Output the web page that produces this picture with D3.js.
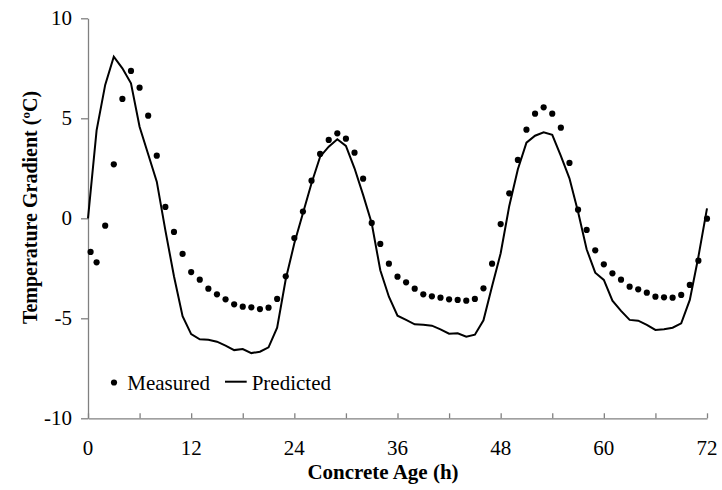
<!DOCTYPE html>
<html><head><meta charset="utf-8">
<script src="https://cdn.jsdelivr.net/npm/d3@7"></script>
<style>
html,body{margin:0;padding:0;background:#fff;}
</style></head>
<body><svg id="chart" width="722" height="490"></svg>
<script>
const measuredHours = [0.3,1,2,3,4,5,6,7,8,9,10,11,12,13,14,15,16,17,18,19,20,21,22,23,24,25,26,27,28,29,30,31,32,33,34,35,36,37,38,39,40,41,42,43,44,45,46,47,48,49,50,51,52,53,54,55,56,57,58,59,60,61,62,63,64,65,66,67,68,69,70,71,72];
const measuredValues = [-1.68,-2.2,-0.37,2.7,5.97,7.37,6.53,5.13,3.13,0.57,-0.68,-1.78,-2.69,-3.07,-3.52,-3.8,-4.05,-4.3,-4.42,-4.45,-4.54,-4.47,-4.03,-2.9,-0.99,0.34,1.88,3.22,3.92,4.25,3.98,3.28,1.98,-0.23,-1.28,-2.27,-2.92,-3.2,-3.52,-3.8,-3.9,-3.97,-4.05,-4.08,-4.12,-4.03,-3.5,-2.27,-0.29,1.25,2.92,4.43,5.23,5.55,5.23,4.53,2.77,0.43,-0.58,-1.6,-2.3,-2.75,-3.07,-3.42,-3.55,-3.72,-3.92,-3.95,-3.97,-3.83,-3.33,-2.12,-0.02];
const predictedHours = d3.range(0, 73);
const predictedValues = [0,4.4,6.67,8.08,7.5,6.75,4.58,3.2,1.83,-0.6,-2.9,-4.89,-5.79,-6.05,-6.07,-6.17,-6.37,-6.59,-6.54,-6.74,-6.67,-6.45,-5.47,-3.05,-1.25,0.25,1.75,3.08,3.58,3.95,3.62,2.5,1.17,-0.25,-2.6,-3.92,-4.87,-5.08,-5.3,-5.32,-5.37,-5.55,-5.77,-5.75,-5.92,-5.82,-5.1,-3.4,-1.75,0.62,2.45,3.78,4.13,4.3,4.17,3.12,2.0,0.33,-1.55,-2.72,-3.08,-4.12,-4.63,-5.08,-5.12,-5.33,-5.58,-5.55,-5.47,-5.25,-4.08,-1.92,0.5];
const xTickLabels = [0,12,24,36,48,60,72];
const xMinorTicks = d3.range(0, 73, 6);
const yTickLabels = [-10,-5,0,5,10];
const xTitle = "Concrete Age (h)";
const yTitle = "Temperature Gradient (ºC)";
const legendLabels = ["Measured", "Predicted"];

const svg = d3.select("#chart");
const x = d3.scaleLinear().domain([0,72]).range([88,707]);
const y = d3.scaleLinear().domain([-10,10]).range([418.3,18.3]);
const axisColor = "#808080";

function txt(sel, size, bold){
  sel.attr("font-family", "'Liberation Serif'").attr("font-size", size).attr("fill", "#000");
  if (bold) sel.attr("font-weight", "bold");
  return sel;
}

// X axis: ticks inside every 6h, labels at 12h
const gx = svg.append("g").attr("transform", `translate(0,${y(-10)})`)
  .call(d3.axisTop(x).tickValues(xMinorTicks).tickSize(5).tickSizeOuter(0).tickFormat(""));
gx.selectAll("path,line").attr("stroke", axisColor).attr("stroke-width", 1.3);
txt(svg.append("g").selectAll("text").data(xTickLabels).join("text")
  .attr("x", d => x(d)).attr("y", 455).attr("text-anchor", "middle").text(d => d), 21);

// Y axis
const gy = svg.append("g").attr("transform", `translate(${x(0)},0)`)
  .call(d3.axisLeft(y).tickValues(yTickLabels).tickSize(7).tickSizeOuter(0).tickFormat(""));
gy.selectAll("path,line").attr("stroke", axisColor).attr("stroke-width", 1.3);
txt(svg.append("g").selectAll("text").data(yTickLabels).join("text")
  .attr("x", 72).attr("y", d => y(d) + 7).attr("text-anchor", "end").text(d => d), 21);

// Titles
txt(svg.append("text").attr("x", 383).attr("y", 478.5).attr("text-anchor", "middle").text(xTitle), 21, true);
txt(svg.append("text").attr("transform", "translate(37,207.5) rotate(-90)").attr("text-anchor", "middle").text(yTitle), 20, true);

// Predicted line
const pred = predictedHours.map((h,i) => [h, predictedValues[i]]);
svg.append("path").datum(pred)
  .attr("d", d3.line().x(d => x(d[0])).y(d => y(d[1])))
  .attr("fill", "none").attr("stroke", "#000").attr("stroke-width", 2).attr("stroke-linejoin", "miter");

// Measured points
const meas = measuredHours.map((h,i) => [h, measuredValues[i]]);
svg.append("g").selectAll("circle").data(meas).join("circle")
  .attr("cx", d => x(d[0])).attr("cy", d => y(d[1])).attr("r", 3.1).attr("fill", "#000");

// Legend
const lg = svg.append("g");
lg.append("circle").attr("cx", 114).attr("cy", 382.5).attr("r", 3.1).attr("fill", "#000");
txt(lg.append("text").attr("x", 127.3).attr("y", 390).text(legendLabels[0]), 21);
lg.append("line").attr("x1", 225).attr("x2", 246.7).attr("y1", 381.7).attr("y2", 381.7)
  .attr("stroke", "#000").attr("stroke-width", 2);
txt(lg.append("text").attr("x", 251.7).attr("y", 390).text(legendLabels[1]), 21);
</script></body></html>
